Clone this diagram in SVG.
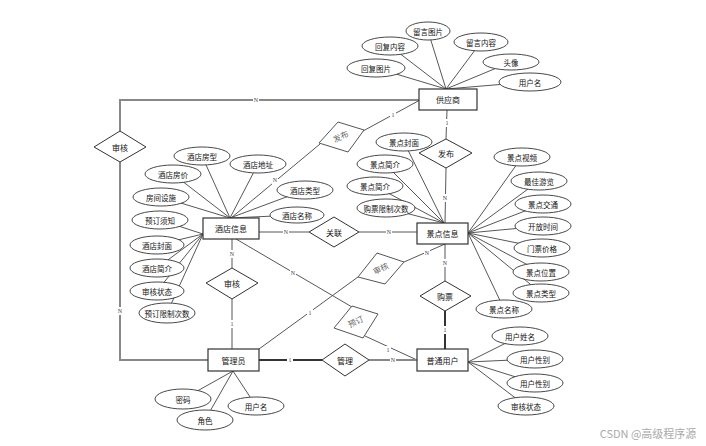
<svg xmlns="http://www.w3.org/2000/svg" width="706" height="446" viewBox="0 0 706 446">
<style>
text{font-family:"Noto Sans CJK SC","Noto Sans",sans-serif;font-size:8px;fill:#111;text-anchor:middle;dominant-baseline:central}
.ent rect{fill:#fff;stroke:#333;stroke-width:1.2}
.rel polygon{fill:#fff;stroke:#333;stroke-width:1}
.rel.rot polygon{stroke:#555}
.rel.rot text{fill:#666;font-family:"Liberation Serif","Noto Sans CJK SC",serif}
.att ellipse{fill:#fff;stroke:#333;stroke-width:0.9}
.att text{font-size:7.5px}
#connectors line,#connectors polyline{stroke:#444;stroke-width:0.9;fill:none}
#connectors .thick{stroke:#333;stroke-width:2}
#connectors .gthick{stroke:#888;stroke-width:2}
.lbl{font-family:"Liberation Serif",serif;font-size:6px;fill:#445}
.lbg{fill:#fff}
</style>
<rect width="706" height="446" fill="#fff"/>
<g id="connectors">
<!-- supplier attributes -->
<line x1="376" y1="68" x2="446" y2="89"/>
<line x1="390" y1="46" x2="446" y2="89"/>
<line x1="428" y1="31" x2="446" y2="89"/>
<line x1="481" y1="42" x2="446" y2="89"/>
<line x1="511" y1="62" x2="446" y2="89"/>
<line x1="530" y1="82" x2="446" y2="89"/>
<!-- hotel attributes -->
<line x1="202" y1="156" x2="230" y2="218"/>
<line x1="258" y1="164" x2="230" y2="218"/>
<line x1="173" y1="174" x2="230" y2="218"/>
<line x1="305" y1="190" x2="230" y2="218"/>
<line x1="161" y1="197" x2="230" y2="218"/>
<line x1="297" y1="215" x2="230" y2="218"/>
<line x1="160" y1="220" x2="203" y2="234"/>
<line x1="157" y1="245" x2="203" y2="234"/>
<line x1="157" y1="268" x2="203" y2="234"/>
<line x1="157" y1="291" x2="203" y2="234"/>
<line x1="167" y1="313" x2="203" y2="234"/>
<!-- scenic attributes -->
<line x1="404" y1="142" x2="444" y2="223"/>
<line x1="385" y1="164" x2="444" y2="223"/>
<line x1="375" y1="186" x2="444" y2="223"/>
<line x1="386" y1="208" x2="444" y2="223"/>
<line x1="522" y1="157" x2="468" y2="233"/>
<line x1="539" y1="181" x2="468" y2="233"/>
<line x1="543" y1="204" x2="468" y2="233"/>
<line x1="543" y1="226" x2="468" y2="233"/>
<line x1="542" y1="248" x2="468" y2="233"/>
<line x1="541" y1="272" x2="468" y2="233"/>
<line x1="541" y1="293" x2="468" y2="233"/>
<line x1="504" y1="309" x2="468" y2="233"/>
<!-- admin attributes -->
<line x1="183" y1="399" x2="233" y2="371"/>
<line x1="205" y1="420" x2="233" y2="371"/>
<line x1="256" y1="406" x2="233" y2="371"/>
<!-- user attributes -->
<line x1="520" y1="336" x2="468" y2="362"/>
<line x1="535" y1="359" x2="468" y2="362"/>
<line x1="535" y1="383" x2="468" y2="362"/>
<line x1="526" y1="406" x2="468" y2="362"/>
<!-- relationships -->
<polyline class="gthick" points="420,100 120,100 120,131"/>
<polyline class="gthick" points="120,162 120,360 208,360"/>
<line x1="420" y1="100" x2="363" y2="131"/>
<line x1="320" y1="144" x2="231" y2="218"/>
<line x1="447" y1="110" x2="446" y2="139"/>
<line x1="446" y1="168" x2="445" y2="223"/>
<line x1="259" y1="232" x2="309" y2="232"/>
<line x1="359" y1="232" x2="417" y2="232"/>
<line x1="232" y1="239" x2="232" y2="268"/>
<line x1="232" y1="299" x2="232" y2="349"/>
<line x1="445" y1="244" x2="445" y2="281"/>
<line class="thick" x1="445" y1="311" x2="445" y2="349"/>
<line x1="445" y1="244" x2="404" y2="262"/>
<line x1="358" y1="277" x2="259" y2="349"/>
<line x1="236" y1="239" x2="352" y2="307"/>
<line x1="365" y1="336" x2="417" y2="360"/>
<line class="thick" x1="259" y1="360" x2="322" y2="360"/>
<line class="gthick" x1="369" y1="360" x2="417" y2="360"/>
<!-- cardinality labels -->
<g>
<rect class="lbg" x="253" y="96" width="6" height="8"/><text class="lbl" x="256" y="100">N</text>
<rect class="lbg" x="117" y="307" width="6" height="8"/><text class="lbl" x="120" y="311">N</text>
<rect class="lbg" x="390" y="111" width="6" height="8"/><text class="lbl" x="393" y="115">1</text>
<rect class="lbg" x="272" y="176" width="6" height="8"/><text class="lbl" x="275" y="180">N</text>
<rect class="lbg" x="444" y="119" width="6" height="8"/><text class="lbl" x="447" y="123">1</text>
<rect class="lbg" x="442" y="194" width="6" height="8"/><text class="lbl" x="445" y="198">N</text>
<rect class="lbg" x="283" y="228" width="6" height="8"/><text class="lbl" x="286" y="232">N</text>
<rect class="lbg" x="386" y="228" width="6" height="8"/><text class="lbl" x="389" y="232">N</text>
<rect class="lbg" x="229" y="250" width="6" height="8"/><text class="lbl" x="232" y="254">N</text>
<rect class="lbg" x="229" y="320" width="6" height="8"/><text class="lbl" x="232" y="324">1</text>
<rect class="lbg" x="442" y="259" width="6" height="8"/><text class="lbl" x="445" y="263">N</text>
<rect class="lbg" x="442" y="326" width="6" height="8"/><text class="lbl" x="445" y="330">1</text>
<rect class="lbg" x="424" y="249" width="6" height="8"/><text class="lbl" x="427" y="253">N</text>
<rect class="lbg" x="307" y="309" width="6" height="8"/><text class="lbl" x="310" y="313">1</text>
<rect class="lbg" x="290" y="269" width="6" height="8"/><text class="lbl" x="293" y="273">N</text>
<rect class="lbg" x="385" y="346" width="6" height="8"/><text class="lbl" x="388" y="350">1</text>
<rect class="lbg" x="287" y="356" width="6" height="8"/><text class="lbl" x="290" y="360">1</text>
<rect class="lbg" x="390" y="356" width="6" height="8"/><text class="lbl" x="393" y="360">N</text>
</g>
</g>
<!-- entities -->
<g id="supplier" class="ent"><rect x="419" y="89" width="58" height="21"/><text x="448" y="99.5">供应商</text></g>
<g id="scenic" class="ent"><rect x="417" y="223" width="51" height="21"/><text x="442.5" y="233.5">景点信息</text></g>
<g id="hotel" class="ent"><rect x="203" y="218" width="56" height="21"/><text x="231" y="228.5">酒店信息</text></g>
<g id="admin" class="ent"><rect x="208" y="349" width="51" height="22"/><text x="233.5" y="360">管理员</text></g>
<g id="user" class="ent"><rect x="417" y="349" width="51" height="22"/><text x="442.5" y="360">普通用户</text></g>
<!-- relationships -->
<g id="rel-audit-supplier" class="rel"><polygon points="120,131 146,147 120,162 94,147"/><text x="120" y="147">审核</text></g>
<g id="rel-publish-hotel" class="rel rot"><polygon points="338,122 364,130 348,152 319,143"/><text x="341" y="137" transform="rotate(-25 341 137)">发布</text></g>
<g id="rel-publish-scenic" class="rel"><polygon points="446,139 472,153 446,168 419,153"/><text x="446" y="153">发布</text></g>
<g id="rel-link" class="rel"><polygon points="334,217 359,232 334,247 309,232"/><text x="334" y="232">关联</text></g>
<g id="rel-audit-hotel" class="rel"><polygon points="232,268 258,283 232,299 206,283"/><text x="232" y="283">审核</text></g>
<g id="rel-audit-scenic" class="rel rot"><polygon points="377,253 404,262 385,284 358,277"/><text x="381" y="269" transform="rotate(-25 381 269)">审核</text></g>
<g id="rel-book" class="rel rot"><polygon points="352,306 378,314 363,338 334,328"/><text x="356" y="322" transform="rotate(-25 356 322)">预订</text></g>
<g id="rel-buy" class="rel"><polygon points="445,281 471,296 445,311 420,296"/><text x="445" y="296">购票</text></g>
<g id="rel-manage" class="rel"><polygon points="345,344 369,360 345,376 322,360"/><text x="345" y="360">管理</text></g>
<!-- supplier attributes -->
<g id="a-s1" class="att"><ellipse cx="428" cy="31" rx="22" ry="9"/><text x="428" y="31">留言图片</text></g>
<g id="a-s2" class="att"><ellipse cx="390" cy="46" rx="28" ry="9"/><text x="390" y="46">回复内容</text></g>
<g id="a-s3" class="att"><ellipse cx="481" cy="42" rx="27" ry="9"/><text x="481" y="42">留言内容</text></g>
<g id="a-s4" class="att"><ellipse cx="376" cy="68" rx="29" ry="9"/><text x="376" y="68">回复图片</text></g>
<g id="a-s5" class="att"><ellipse cx="511" cy="62" rx="28" ry="8"/><text x="511" y="62">头像</text></g>
<g id="a-s6" class="att"><ellipse cx="530" cy="82" rx="31" ry="9"/><text x="530" y="82">用户名</text></g>
<!-- hotel attributes -->
<g id="a-h1" class="att"><ellipse cx="202" cy="156" rx="28" ry="9"/><text x="202" y="156">酒店房型</text></g>
<g id="a-h2" class="att"><ellipse cx="258" cy="164" rx="28" ry="9"/><text x="258" y="164">酒店地址</text></g>
<g id="a-h3" class="att"><ellipse cx="173" cy="174" rx="28" ry="9"/><text x="173" y="174">酒店房价</text></g>
<g id="a-h4" class="att"><ellipse cx="305" cy="190" rx="28" ry="9"/><text x="305" y="190">酒店类型</text></g>
<g id="a-h5" class="att"><ellipse cx="161" cy="197" rx="28" ry="9"/><text x="161" y="197">房间设施</text></g>
<g id="a-h6" class="att"><ellipse cx="297" cy="215" rx="27" ry="8"/><text x="297" y="215">酒店名称</text></g>
<g id="a-h7" class="att"><ellipse cx="160" cy="220" rx="28" ry="9"/><text x="160" y="220">预订须知</text></g>
<g id="a-h8" class="att"><ellipse cx="157" cy="245" rx="27" ry="9"/><text x="157" y="245">酒店封面</text></g>
<g id="a-h9" class="att"><ellipse cx="157" cy="268" rx="27" ry="9"/><text x="157" y="268">酒店简介</text></g>
<g id="a-h10" class="att"><ellipse cx="157" cy="291" rx="27" ry="9"/><text x="157" y="291">审核状态</text></g>
<g id="a-h11" class="att"><ellipse cx="167" cy="313" rx="28" ry="10"/><text x="167" y="313">预订限制次数</text></g>
<!-- scenic attributes -->
<g id="a-c1" class="att"><ellipse cx="404" cy="142" rx="28" ry="9"/><text x="404" y="142">景点封面</text></g>
<g id="a-c2" class="att"><ellipse cx="385" cy="164" rx="28" ry="9"/><text x="385" y="164">景点简介</text></g>
<g id="a-c3" class="att"><ellipse cx="375" cy="186" rx="28" ry="9"/><text x="375" y="186">景点简介</text></g>
<g id="a-c4" class="att"><ellipse cx="386" cy="208" rx="29" ry="9"/><text x="386" y="208">购票限制次数</text></g>
<g id="a-c5" class="att"><ellipse cx="522" cy="157" rx="28" ry="9"/><text x="522" y="157">景点视频</text></g>
<g id="a-c6" class="att"><ellipse cx="539" cy="181" rx="28" ry="9"/><text x="539" y="181">最佳游览</text></g>
<g id="a-c7" class="att"><ellipse cx="543" cy="204" rx="28" ry="9"/><text x="543" y="204">景点交通</text></g>
<g id="a-c8" class="att"><ellipse cx="543" cy="226" rx="28" ry="9"/><text x="543" y="226">开放时间</text></g>
<g id="a-c9" class="att"><ellipse cx="542" cy="248" rx="28" ry="9"/><text x="542" y="248">门票价格</text></g>
<g id="a-c10" class="att"><ellipse cx="541" cy="272" rx="28" ry="9"/><text x="541" y="272">景点位置</text></g>
<g id="a-c11" class="att"><ellipse cx="541" cy="293" rx="28" ry="9"/><text x="541" y="293">景点类型</text></g>
<g id="a-c12" class="att"><ellipse cx="504" cy="309" rx="28" ry="9"/><text x="504" y="309">景点名称</text></g>
<!-- admin attributes -->
<g id="a-a1" class="att"><ellipse cx="183" cy="399" rx="28" ry="10"/><text x="183" y="399">密码</text></g>
<g id="a-a2" class="att"><ellipse cx="205" cy="420" rx="28" ry="10"/><text x="205" y="420">角色</text></g>
<g id="a-a3" class="att"><ellipse cx="256" cy="406" rx="28" ry="9"/><text x="256" y="406">用户名</text></g>
<!-- user attributes -->
<g id="a-u1" class="att"><ellipse cx="520" cy="336" rx="28" ry="9"/><text x="520" y="336">用户姓名</text></g>
<g id="a-u2" class="att"><ellipse cx="535" cy="359" rx="28" ry="9"/><text x="535" y="359">用户性别</text></g>
<g id="a-u3" class="att"><ellipse cx="535" cy="383" rx="28" ry="9"/><text x="535" y="383">用户性别</text></g>
<g id="a-u4" class="att"><ellipse cx="526" cy="406" rx="28" ry="9"/><text x="526" y="406">审核状态</text></g>
<text x="648" y="433" style="font-size:11px;fill:#aaa">CSDN @高级程序源</text>
</svg>
